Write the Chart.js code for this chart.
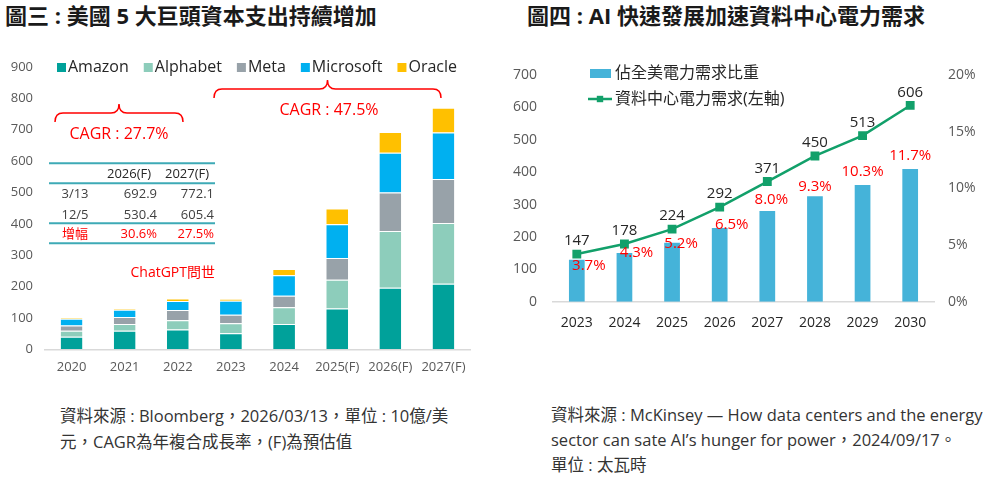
<!DOCTYPE html>
<html>
<head>
<meta charset="utf-8">
<script src="https://cdn.jsdelivr.net/npm/chart.js@4.4.1/dist/chart.umd.min.js"></script>
<style>
  body { margin: 0; width: 997px; height: 477px; background: #fff; position: relative; overflow: hidden;
         font-family: 'Open Sans', 'Noto Sans CJK TC', sans-serif; }
  .title { position: absolute; top: 2px; font-size: 22px; font-weight: bold; color: #1a1a1a; line-height: 26px; white-space: nowrap; }
  .src { position: absolute; font-size: 16.5px; color: #333; line-height: 26px; white-space: nowrap; }
  .box { position: absolute; }
</style>
</head>
<body>
<div class="title" style="left:5px">圖三 : 美國 5 大巨頭資本支出持續增加</div>
<div class="title" style="left:527px">圖四 : AI 快速發展加速資料中心電力需求</div>
<div class="box" style="left:0;top:40px;width:480px;height:345px"><canvas id="capex"></canvas></div>
<div class="box" style="left:500px;top:40px;width:497px;height:310px"><canvas id="power"></canvas></div>
<div class="src" style="left:60px;top:403px">資料來源 : Bloomberg，2026/03/13，單位 : 10億/美<br>元，CAGR為年複合成長率，(F)為預估值</div>
<div class="src" style="left:551px;top:402px;line-height:25px">資料來源 : McKinsey — How data centers and the energy<br>sector can sate AI’s hunger for power，2024/09/17。<br>單位 : 太瓦時</div>

<script>
// ---- figure 3: capex of the big five (USD 10 bn) ----
const capexYears = ['2020', '2021', '2022', '2023', '2024', '2025(F)', '2026(F)', '2027(F)'];
const amazon    = [40, 59, 63, 51, 81, 130, 196, 209];
const alphabet  = [19, 22, 30, 32, 53, 92, 181, 194];
const meta      = [17, 22, 32, 27, 37, 69, 123, 140];
const microsoft = [21, 23, 29, 45, 65, 108, 127, 148];
const oracle    = [4, 4, 8, 6, 20, 50, 66, 79];
const capexTicks = [0, 900, 100];

const cagrEarly = 27.7;
const cagrLate = 47.5;
const forecastCols = ['2026(F)', '2027(F)'];
const forecastNow = [692.9, 772.1];
const forecastPrev = [530.4, 605.4];
const forecastRise = [30.6, 27.5];

// ---- figure 4: data-centre power demand ----
const powerYears = ['2023', '2024', '2025', '2026', '2027', '2028', '2029', '2030'];
const dcDemand = [147, 178, 224, 292, 371, 450, 513, 606];
const usShare = [3.7, 4.3, 5.2, 6.5, 8.0, 9.3, 10.3, 11.7];
const demandTicks = [0, 700, 100];
const shareTicks = [0, 20, 5];

const fontStack = "'Open Sans', 'Noto Sans CJK TC', sans-serif";
Chart.defaults.font.family = fontStack;
Chart.defaults.animation = false;

const colors = {
    amazon: '#00A19A',
    alphabet: '#8DCDBB',
    meta: '#98A2A9',
    microsoft: '#00B0F0',
    oracle: '#FFC000',
    share: '#45B3D9',
    demand: '#12A06A',
    red: '#FF0000',
};

function drawBrace(ctx, xL, xR, yTip, yMid, yEnd) {
    const xm = (xL + xR) / 2;
    const r = 8;
    ctx.beginPath();
    ctx.moveTo(xL, yEnd);
    ctx.quadraticCurveTo(xL, yMid, xL + r, yMid);
    ctx.lineTo(xm - r, yMid);
    ctx.quadraticCurveTo(xm, yMid, xm, yTip);
    ctx.quadraticCurveTo(xm, yMid, xm + r, yMid);
    ctx.lineTo(xR - r, yMid);
    ctx.quadraticCurveTo(xR, yMid, xR, yEnd);
    ctx.stroke();
}

const capexNotes = {
    id: 'capexNotes',
    afterDatasetsDraw(chart) {
        const ctx = chart.ctx;
        ctx.save();
        ctx.textBaseline = 'middle';

        // legend
        ctx.font = '16px ' + fontStack;
        let x = 57;
        chart.data.datasets.forEach(ds => {
            ctx.fillStyle = ds.backgroundColor;
            ctx.fillRect(x, 23, 9, 9);
            ctx.fillStyle = '#262626';
            ctx.textAlign = 'left';
            ctx.fillText(ds.label, x + 11, 27.5);
            x += 11 + ctx.measureText(ds.label).width + 15;
        });

        // CAGR braces
        ctx.strokeStyle = colors.red;
        ctx.lineWidth = 1.5;
        drawBrace(ctx, 55, 183, 64, 73, 82);
        drawBrace(ctx, 214, 441, 40, 49, 58);
        ctx.fillStyle = colors.red;
        ctx.textAlign = 'center';
        ctx.font = '16px ' + fontStack;
        ctx.fillText('CAGR : ' + cagrEarly.toFixed(1) + '%', 119, 94);
        ctx.fillText('CAGR : ' + cagrLate.toFixed(1) + '%', 329, 70);

        // forecast table
        ctx.strokeStyle = '#3EAAB6';
        ctx.lineWidth = 2;
        [123.3, 143.3, 183.3, 203.3].forEach(y => {
            ctx.beginPath();
            ctx.moveTo(49, y);
            ctx.lineTo(215, y);
            ctx.stroke();
        });
        ctx.font = '13px ' + fontStack;
        ctx.fillStyle = '#262626';
        ctx.textAlign = 'center';
        ctx.fillText(forecastCols[0], 129, 134);
        ctx.fillText(forecastCols[1], 187, 134);
        ctx.fillStyle = '#404040';
        ctx.fillText('3/13', 75, 154);
        ctx.fillText('12/5', 75, 175);
        ctx.textAlign = 'right';
        ctx.fillText(forecastNow[0].toFixed(1), 157, 154);
        ctx.fillText(forecastNow[1].toFixed(1), 214, 154);
        ctx.fillText(forecastPrev[0].toFixed(1), 157, 175);
        ctx.fillText(forecastPrev[1].toFixed(1), 214, 175);
        ctx.fillStyle = colors.red;
        ctx.fillText(forecastRise[0].toFixed(1) + '%', 157, 194);
        ctx.fillText(forecastRise[1].toFixed(1) + '%', 214, 194);
        ctx.textAlign = 'center';
        ctx.fillText('增幅', 75, 194);

        ctx.font = '14px ' + fontStack;
        ctx.textAlign = 'right';
        ctx.fillText('ChatGPT問世', 215, 233);
        ctx.restore();
    }
};

function capexSet(label, data, color) {
    return {
        label: label,
        data: data,
        backgroundColor: color,
        borderColor: 'rgba(255,255,255,0.7)',
        borderWidth: {top: 1, left: 0, right: 0, bottom: 0},
        borderSkipped: 'start',
        barPercentage: 0.41,
        categoryPercentage: 1,
    };
}

new Chart(document.getElementById('capex'), {
    type: 'bar',
    data: {
        labels: capexYears,
        datasets: [
            capexSet('Amazon', amazon, colors.amazon),
            capexSet('Alphabet', alphabet, colors.alphabet),
            capexSet('Meta', meta, colors.meta),
            capexSet('Microsoft', microsoft, colors.microsoft),
            capexSet('Oracle', oracle, colors.oracle),
        ],
    },
    options: {
        responsive: true,
        maintainAspectRatio: false,
        layout: {padding: {top: 27, right: 10, left: 0, bottom: 0}},
        plugins: {legend: {display: false}, tooltip: {enabled: false}},
        scales: {
            x: {
                stacked: true,
                grid: {display: false, drawTicks: false},
                border: {display: true, color: '#D9D9D9', width: 1.5},
                ticks: {color: '#595959', font: {size: 13}, padding: 10, maxRotation: 0},
                afterFit: s => { s.height = 35.7; },
            },
            y: {
                stacked: true,
                min: capexTicks[0],
                max: capexTicks[1],
                grid: {display: false, drawTicks: false},
                border: {display: false},
                ticks: {stepSize: capexTicks[2], color: '#595959', font: {size: 13}, padding: 12},
                afterFit: s => { s.width = 45; },
            },
        },
    },
    plugins: [capexNotes],
});

// label nudges (px) for the share labels, relative to bar top
const shareLabelNudge = [[12, 6], [12, 0], [9, 1], [12, -3], [4, -11], [0, -10], [0, -13], [0, -13]];

const powerNotes = {
    id: 'powerNotes',
    afterDatasetsDraw(chart) {
        const ctx = chart.ctx;
        ctx.save();
        ctx.textBaseline = 'middle';

        // legend
        ctx.font = '16px ' + fontStack;
        ctx.fillStyle = colors.share;
        ctx.fillRect(90, 29, 21, 9);
        ctx.fillStyle = '#262626';
        ctx.fillText(chart.data.datasets[1].label, 115, 33);
        ctx.strokeStyle = colors.demand;
        ctx.lineWidth = 2.5;
        ctx.beginPath();
        ctx.moveTo(88, 59);
        ctx.lineTo(112, 59);
        ctx.stroke();
        ctx.fillStyle = colors.demand;
        ctx.fillRect(96.8, 55.8, 6.4, 6.4);
        ctx.fillStyle = '#262626';
        ctx.fillText(chart.data.datasets[0].label, 115, 59);

        // value labels
        ctx.font = '15px ' + fontStack;
        ctx.textAlign = 'center';
        const line = chart.getDatasetMeta(0).data;
        line.forEach((pt, i) => {
            ctx.fillStyle = '#262626';
            ctx.fillText(String(dcDemand[i]), pt.x, pt.y - 13);
        });
        const bars = chart.getDatasetMeta(1).data;
        bars.forEach((bar, i) => {
            const n = shareLabelNudge[i];
            ctx.fillStyle = colors.red;
            ctx.fillText(usShare[i].toFixed(1) + '%', bar.x + n[0], bar.y + n[1]);
        });
        ctx.restore();
    }
};

new Chart(document.getElementById('power'), {
    data: {
        labels: powerYears,
        datasets: [
            {
                type: 'line',
                label: '資料中心電力需求(左軸)',
                data: dcDemand,
                yAxisID: 'y',
                borderColor: colors.demand,
                backgroundColor: colors.demand,
                borderWidth: 2.5,
                pointStyle: 'rect',
                pointRadius: 4.5,
                tension: 0,
                order: 0,
            },
            {
                type: 'bar',
                label: '佔全美電力需求比重',
                data: usShare,
                yAxisID: 'y2',
                backgroundColor: colors.share,
                barPercentage: 0.33,
                categoryPercentage: 1,
                order: 1,
            },
        ],
    },
    options: {
        responsive: true,
        maintainAspectRatio: false,
        layout: {padding: {top: 35, right: 0, left: 0, bottom: 0}},
        plugins: {legend: {display: false}, tooltip: {enabled: false}},
        scales: {
            x: {
                grid: {display: false, drawTicks: false},
                border: {display: true, color: '#D9D9D9', width: 1.5},
                ticks: {color: '#262626', font: {size: 14}, padding: 13},
                afterFit: s => { s.height = 48.3; },
            },
            y: {
                position: 'left',
                min: demandTicks[0],
                max: demandTicks[1],
                grid: {display: false, drawTicks: false},
                border: {display: false},
                ticks: {stepSize: demandTicks[2], color: '#595959', font: {size: 14}, padding: 16},
                afterFit: s => { s.width = 53; },
            },
            y2: {
                position: 'right',
                min: shareTicks[0],
                max: shareTicks[1],
                grid: {display: false, drawTicks: false},
                border: {display: false},
                ticks: {stepSize: shareTicks[2], color: '#595959', font: {size: 14}, padding: 14,
                        callback: v => v + '%'},
                afterFit: s => { s.width = 63; },
            },
        },
    },
    plugins: [powerNotes],
});
</script>
</body>
</html>
